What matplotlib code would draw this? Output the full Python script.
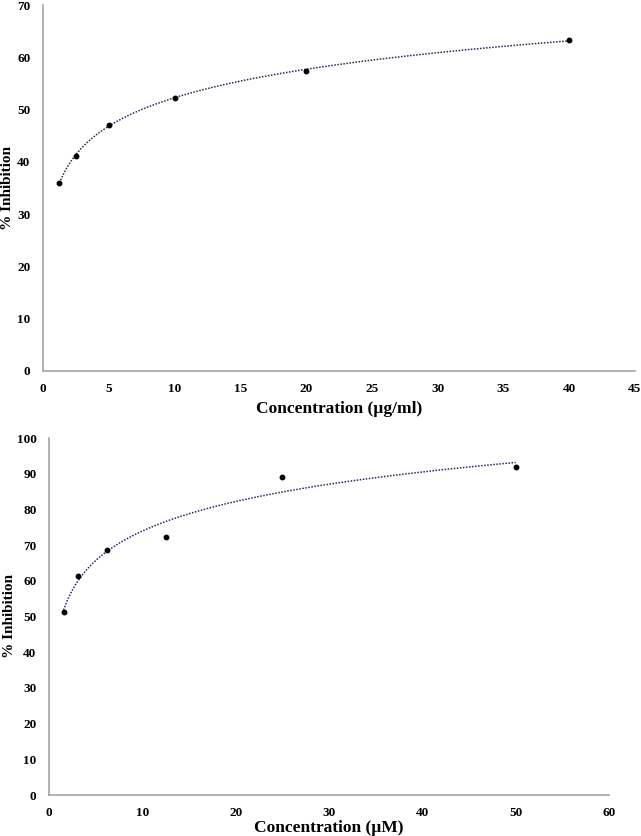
import numpy as np
import matplotlib
matplotlib.use('Agg')
import matplotlib.pyplot as plt

plt.rcParams['font.family'] = ['Liberation Serif', 'DejaVu Serif']
plt.rcParams['font.weight'] = 'bold'

# top panel data
conc_ug = [1.25, 2.5, 5, 10, 20, 40]
inhib_ug = [36.0, 41.2, 47.1, 52.3, 57.4, 63.3]

# bottom panel data
conc_um = [1.5625, 3.125, 6.25, 12.5, 25, 50]
inhib_um = [51.4, 61.3, 68.7, 72.4, 89.1, 91.9]


def log_trend(x, y):
    a, b = np.polyfit(np.log(x), y, 1)
    xs = np.linspace(min(x), max(x), 200)
    return xs, a * np.log(xs) + b


def style_axes(ax, xlim, xstep, ylim, ystep, xlabel, xlabel_pad, ylabel_x):
    ax.set_xlim(*xlim)
    ax.set_ylim(*ylim)
    ax.set_xticks(np.arange(xlim[0], xlim[1] + 0.1, xstep))
    ax.set_yticks(np.arange(ylim[0], ylim[1] + 0.1, ystep))
    for side in ['top', 'right']:
        ax.spines[side].set_visible(False)
    for side in ['left', 'bottom']:
        ax.spines[side].set_color('#a6a6a6')
        ax.spines[side].set_linewidth(1.2)
    ax.tick_params(axis='x', length=0, labelsize=9.5, pad=9)
    ax.tick_params(axis='y', length=0, labelsize=9.5, pad=9)
    for lbl in ax.get_xticklabels() + ax.get_yticklabels():
        lbl.set_fontweight('bold')
    ax.set_xlabel(xlabel, fontsize=12.5, fontweight='bold', labelpad=xlabel_pad)
    ax.set_ylabel('% Inhibition', fontsize=11, fontweight='bold')
    ax.yaxis.set_label_coords(ylabel_x, 0.5)


fig = plt.figure(figsize=(6.41, 8.36), dpi=100)
W, H = 641, 836

ax1 = fig.add_axes([43 / W, 1 - 371 / H, (635 - 43) / W, (371 - 5) / H])
xs, ys = log_trend(conc_ug, inhib_ug)
ax1.plot(xs, ys, linestyle=(0, (1, 1)), color='#1f2a5c', linewidth=1.1)
ax1.plot(conc_ug, inhib_ug, 'o', color='black', markersize=3.2)
style_axes(ax1, (0, 45), 5, (0, 70), 10, 'Concentration (µg/ml)', 4, -29 / 592)

ax2 = fig.add_axes([49 / W, 1 - 795 / H, (609 - 49) / W, (795 - 438) / H])
xs, ys = log_trend(conc_um, inhib_um)
ax2.plot(xs, ys, linestyle=(0, (1, 1)), color='#1f2a6e', linewidth=1.1)
ax2.plot(conc_um, inhib_um, 'o', color='black', markersize=3.2)
style_axes(ax2, (0, 60), 10, (0, 100), 10, 'Concentration (µM)', 0, -33 / 560)

fig.savefig('out.png', dpi=100)
